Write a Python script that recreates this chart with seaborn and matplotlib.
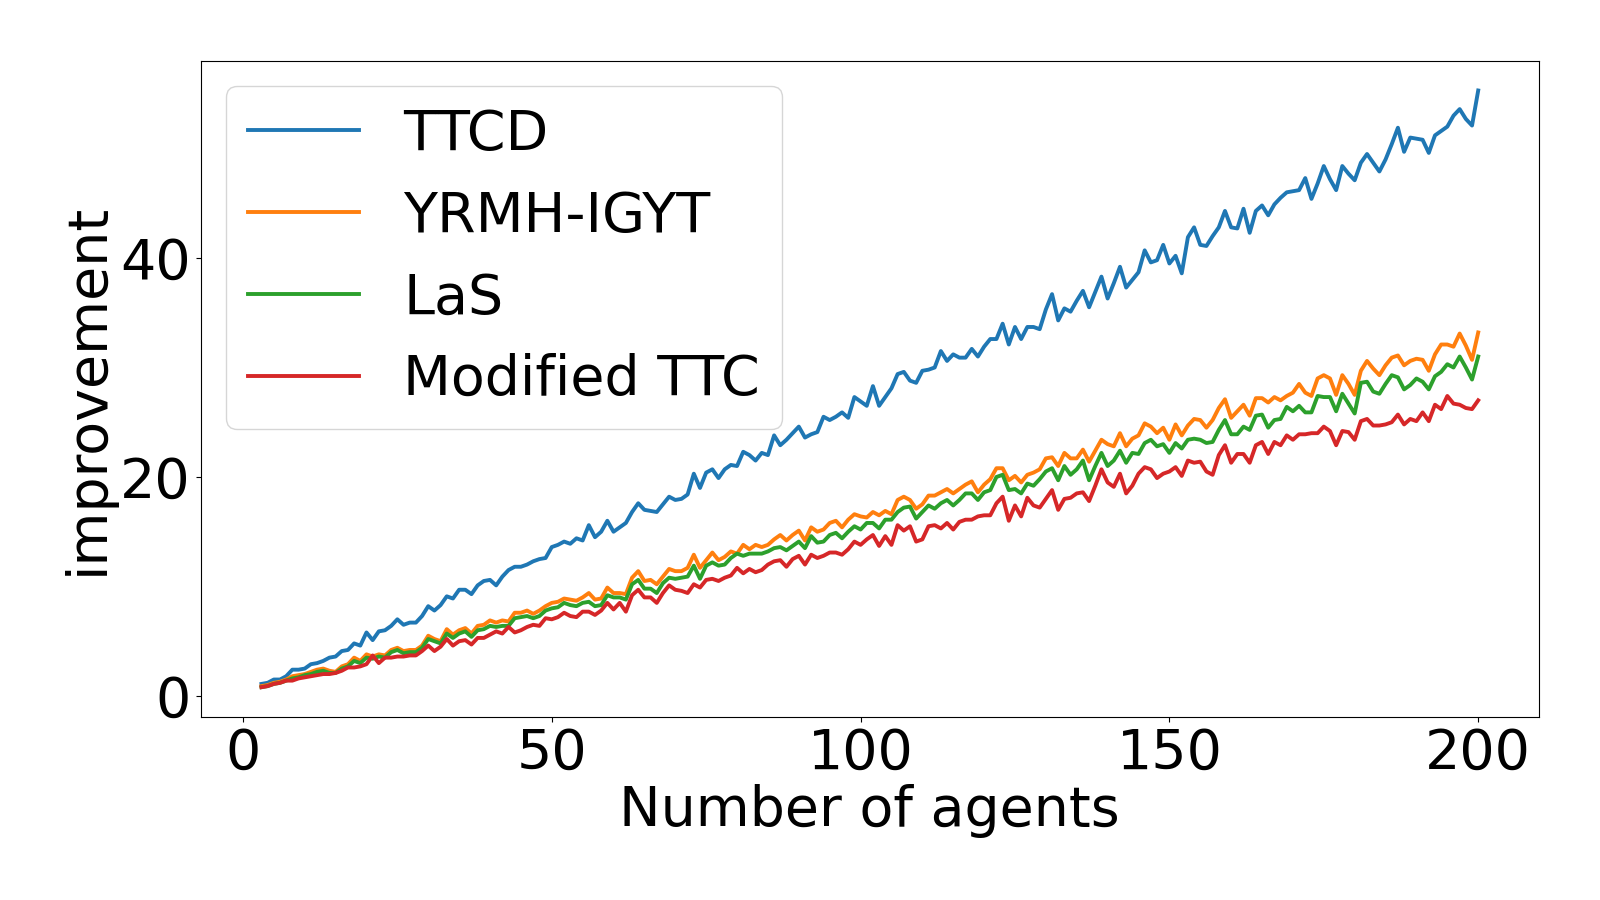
import numpy as np
import pandas as pd
import matplotlib
matplotlib.use("Agg")
import matplotlib.pyplot as plt
import seaborn as sns

# x = number of agents (3..200)
agents = list(range(3, 201))

ttcd = [
    1.1, 1.2, 1.5, 1.5, 1.8, 2.4, 2.4, 2.5, 2.9, 3.0,
    3.2, 3.5, 3.6, 4.1, 4.2, 4.8, 4.6, 5.8, 5.1, 5.9,
    6.0, 6.4, 7.0, 6.5, 6.7, 6.7, 7.3, 8.2, 7.8, 8.3,
    9.1, 8.9, 9.7, 9.7, 9.3, 10.1, 10.5, 10.6, 10.1, 10.9,
    11.5, 11.8, 11.8, 12.0, 12.3, 12.5, 12.6, 13.6, 13.8, 14.1,
    13.9, 14.4, 14.2, 15.6, 14.5, 15.0, 16.0, 15.0, 15.4, 15.8,
    16.8, 17.6, 17.0, 16.9, 16.8, 17.5, 18.2, 17.9, 18.0, 18.4,
    20.3, 19.0, 20.4, 20.7, 19.9, 20.7, 21.1, 21.0, 22.3, 22.0,
    21.5, 22.2, 22.0, 23.8, 22.9, 23.4, 24.0, 24.6, 23.6, 23.9,
    24.1, 25.5, 25.2, 25.5, 25.9, 25.4, 27.3, 26.9, 26.5, 28.3,
    26.5, 27.3, 28.1, 29.4, 29.6, 28.8, 28.6, 29.7, 29.8, 30.0,
    31.5, 30.6, 31.2, 30.9, 30.9, 31.7, 31.0, 31.9, 32.6, 32.6,
    34.0, 32.1, 33.7, 32.6, 33.7, 33.7, 33.5, 35.3, 36.7, 34.3,
    35.4, 35.1, 36.1, 37.0, 35.5, 36.9, 38.3, 36.3, 37.7, 39.2,
    37.3, 38.0, 38.7, 40.7, 39.6, 39.8, 41.2, 39.5, 40.2, 38.6,
    41.9, 42.8, 41.2, 41.1, 42.0, 42.8, 44.3, 42.8, 42.7, 44.5,
    42.3, 44.3, 44.8, 43.9, 44.9, 45.5, 46.0, 46.1, 46.2, 47.3,
    45.4, 46.8, 48.4, 47.2, 46.2, 48.4, 47.7, 47.1, 48.7, 49.5,
    48.7, 47.9, 49.0, 50.4, 51.9, 49.7, 51.0, 50.9, 50.8, 49.6,
    51.2, 51.6, 52.0, 53.0, 53.6, 52.7, 52.1, 55.3,
]

yrmh_igyt = [
    0.9, 1.0, 1.2, 1.3, 1.5, 1.8, 1.9, 2.0, 2.2, 2.4,
    2.5, 2.3, 2.2, 2.7, 2.9, 3.5, 3.2, 3.8, 3.6, 3.8,
    3.7, 4.2, 4.4, 4.1, 4.2, 4.2, 4.6, 5.5, 5.2, 5.0,
    6.1, 5.6, 6.0, 6.2, 5.7, 6.4, 6.5, 6.9, 6.7, 6.9,
    6.8, 7.6, 7.6, 7.8, 7.5, 7.8, 8.2, 8.5, 8.6, 8.9,
    8.8, 8.7, 9.0, 9.4, 8.8, 8.9, 9.9, 9.4, 9.4, 9.3,
    10.8, 11.4, 10.5, 10.6, 10.2, 10.9, 11.6, 11.4, 11.4, 11.7,
    12.9, 11.7, 12.4, 13.1, 12.4, 12.7, 13.2, 13.0, 13.8, 13.4,
    13.8, 13.6, 13.8, 14.3, 14.7, 14.2, 14.7, 15.1, 14.2, 15.4,
    15.0, 15.2, 15.8, 16.0, 15.4, 16.1, 16.6, 16.4, 16.3, 16.8,
    16.5, 16.9, 16.6, 17.9, 18.2, 17.9, 17.1, 17.5, 18.3, 18.3,
    18.6, 18.9, 18.5, 18.9, 19.3, 19.6, 18.6, 19.3, 19.8, 20.8,
    20.8, 19.7, 20.1, 19.5, 20.2, 20.4, 20.7, 21.7, 21.8, 21.0,
    22.2, 21.7, 21.7, 22.5, 21.4, 22.4, 23.4, 23.0, 22.8, 24.0,
    22.8, 23.5, 23.8, 24.9, 24.6, 24.0, 24.5, 23.4, 24.8, 23.8,
    24.7, 25.3, 25.2, 24.5, 25.2, 26.3, 27.1, 25.4, 26.0, 26.6,
    25.6, 27.2, 27.2, 26.8, 27.3, 27.0, 27.4, 27.7, 28.5, 27.7,
    27.4, 29.0, 29.3, 29.0, 27.5, 29.3, 28.5, 27.5, 29.7, 30.6,
    29.9, 29.3, 30.2, 30.9, 31.1, 30.2, 30.6, 30.8, 30.7, 29.7,
    31.2, 32.1, 32.1, 31.9, 33.1, 32.0, 30.7, 33.2,
]

las = [
    0.8, 0.9, 1.1, 1.2, 1.4, 1.6, 1.7, 1.9, 2.0, 2.2,
    2.3, 2.1, 2.1, 2.5, 2.7, 3.2, 3.0, 3.5, 3.4, 3.6,
    3.5, 4.0, 4.2, 3.9, 4.0, 4.0, 4.4, 5.2, 5.0, 4.8,
    5.7, 5.3, 5.7, 5.9, 5.4, 6.0, 6.1, 6.4, 6.3, 6.4,
    6.4, 7.1, 7.2, 7.3, 7.1, 7.3, 7.8, 8.0, 8.1, 8.5,
    8.3, 8.2, 8.5, 8.6, 8.2, 8.3, 9.2, 9.0, 9.0, 8.8,
    10.2, 10.6, 9.8, 9.8, 9.4, 10.3, 10.8, 10.7, 10.8, 10.9,
    11.9, 10.7, 11.9, 12.2, 11.9, 12.0, 12.6, 13.0, 12.8, 13.0,
    13.0, 13.0, 13.2, 13.5, 13.6, 13.3, 13.7, 14.1, 13.5, 14.6,
    14.0, 14.1, 14.7, 14.9, 14.4, 15.0, 15.5, 15.2, 15.8, 15.8,
    15.3, 16.1, 16.1, 16.8, 17.2, 17.3, 16.2, 16.8, 17.4, 17.1,
    17.6, 17.9, 17.4, 17.9, 18.5, 18.5, 17.9, 18.6, 18.8, 20.0,
    20.2, 18.8, 18.9, 18.5, 19.4, 19.2, 19.8, 20.5, 20.8, 19.7,
    21.0, 20.2, 20.7, 21.5, 19.7, 21.0, 22.2, 21.0, 21.5, 22.4,
    21.3, 22.2, 22.1, 23.1, 23.4, 22.8, 23.0, 22.2, 23.1, 22.6,
    23.4, 23.5, 23.4, 23.1, 23.2, 24.3, 25.2, 23.9, 23.9, 24.6,
    24.3, 25.6, 25.7, 24.5, 25.2, 25.3, 26.4, 26.0, 26.5, 25.9,
    25.9, 27.4, 27.3, 27.3, 26.0, 27.6, 26.7, 25.8, 28.6, 28.7,
    27.8, 27.6, 28.5, 29.3, 29.1, 28.0, 28.4, 29.0, 28.7, 28.0,
    29.2, 29.6, 30.3, 30.0, 31.0, 30.0, 28.9, 31.0,
]

modified_ttc = [
    0.8, 0.9, 1.1, 1.2, 1.4, 1.4, 1.6, 1.7, 1.8, 1.9,
    2.0, 2.0, 2.1, 2.3, 2.6, 2.6, 2.7, 2.9, 3.7, 3.0,
    3.5, 3.5, 3.6, 3.6, 3.7, 3.7, 4.1, 4.6, 4.1, 4.5,
    5.2, 4.6, 5.0, 5.1, 4.7, 5.3, 5.3, 5.6, 5.9, 5.7,
    6.3, 5.8, 6.0, 6.3, 6.5, 6.4, 7.1, 7.0, 7.2, 7.6,
    7.3, 7.2, 7.7, 7.7, 7.4, 7.8, 8.5, 7.9, 8.5, 7.7,
    9.2, 9.7, 9.0, 9.0, 8.5, 9.4, 10.1, 9.7, 9.6, 9.4,
    10.2, 9.9, 10.6, 10.7, 10.5, 10.8, 11.0, 11.7, 11.2, 11.6,
    11.3, 11.5, 12.0, 12.3, 12.4, 11.8, 12.5, 12.8, 12.0, 12.9,
    12.6, 12.8, 13.1, 13.1, 12.9, 13.4, 14.1, 13.8, 14.3, 14.7,
    13.7, 14.6, 13.8, 15.6, 15.1, 15.5, 14.1, 14.3, 15.5, 15.6,
    15.3, 15.8, 15.2, 15.9, 16.1, 16.1, 16.4, 16.5, 16.5, 17.6,
    18.2, 16.0, 17.4, 16.4, 18.1, 17.4, 17.2, 18.0, 18.8, 17.0,
    18.0, 18.1, 18.5, 18.6, 17.8, 19.2, 20.7, 19.5, 19.1, 20.3,
    18.5, 19.2, 20.3, 20.9, 20.7, 19.9, 20.3, 20.5, 20.9, 20.1,
    21.5, 21.3, 21.4, 20.5, 20.2, 22.0, 22.9, 21.3, 22.1, 22.1,
    21.3, 22.9, 23.2, 22.1, 23.2, 22.9, 23.8, 23.4, 23.9, 23.9,
    24.0, 24.0, 24.6, 24.2, 22.9, 24.2, 24.1, 23.4, 25.1, 25.3,
    24.7, 24.7, 24.8, 25.0, 25.7, 24.8, 25.3, 25.1, 25.9, 25.1,
    26.6, 26.2, 27.4, 26.7, 26.6, 26.3, 26.2, 27.0,
]

series = {
    "TTCD": ttcd,
    "YRMH-IGYT": yrmh_igyt,
    "LaS": las,
    "Modified TTC": modified_ttc,
}
colors = ["#1f77b4", "#ff7f0e", "#2ca02c", "#d62728"]

fig = plt.figure(figsize=(16, 9), dpi=100)
ax = fig.add_axes([0.1254, 0.2033, 0.8365, 0.7293])

for (name, vals), c in zip(series.items(), colors):
    df = pd.DataFrame({"agents": agents, "improvement": vals})
    sns.lineplot(data=df, x="agents", y="improvement", ax=ax,
                 color=c, linewidth=2.8, label=name)

ax.set_xticks([0, 50, 100, 150, 200])
ax.set_yticks([0, 20, 40])
ax.tick_params(labelsize=40)
ax.set_xlabel("Number of agents", fontsize=40, labelpad=2)
ax.set_ylabel("improvement", fontsize=40)
ax.legend(loc="upper left", fontsize=40, borderaxespad=0.45)

fig.savefig("out.png", dpi=100)
